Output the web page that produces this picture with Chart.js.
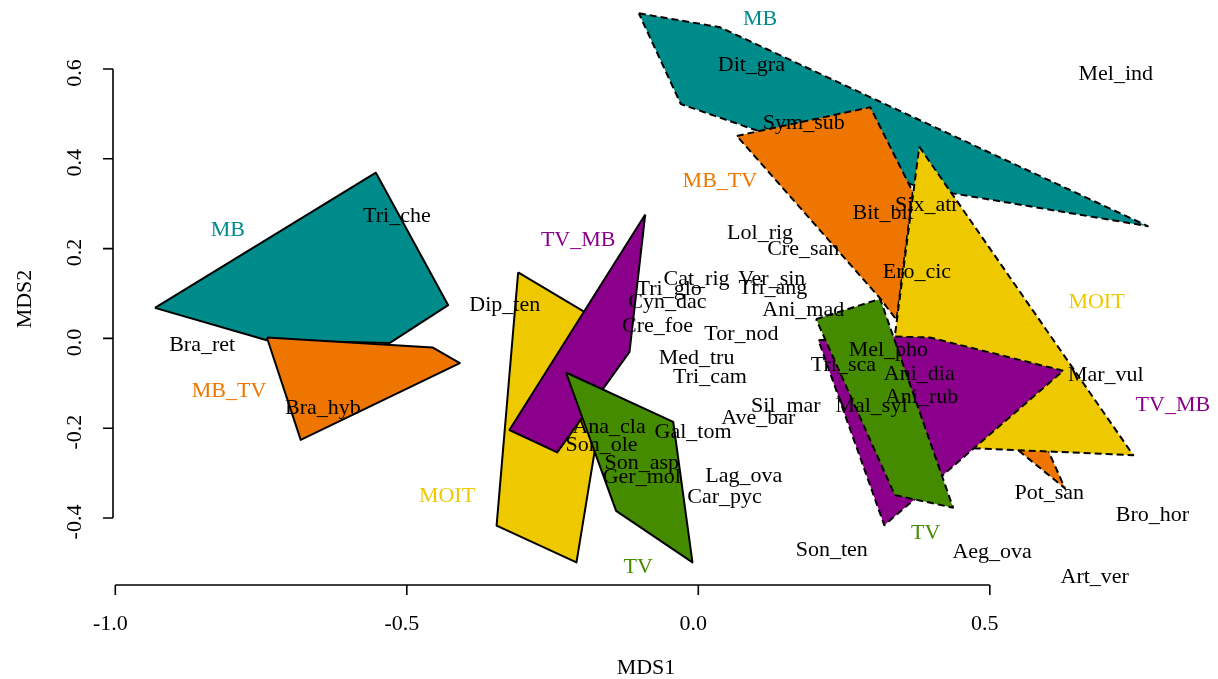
<!DOCTYPE html>
<html>
<head>
<meta charset="utf-8">
<script src="https://cdn.jsdelivr.net/npm/chart.js@4.4.1/dist/chart.umd.min.js"></script>
<style>
  html, body { margin: 0; padding: 0; background: #fff; }
  canvas { display: block; }
</style>
</head>
<body>
<canvas id="nmdsChart" width="1218" height="679"></canvas>
<script>
  // hull vertices as [MDS1, MDS2]; first set drawn with solid borders, second with dashed
  const hullMB_solid    = [[-0.932, 0.068], [-0.553, 0.369], [-0.429, 0.074], [-0.529, -0.010], [-0.740, -0.004]];
  const hullMBTV_solid  = [[-0.740, 0.002], [-0.456, -0.020], [-0.409, -0.055], [-0.682, -0.226]];
  const hullMOIT_solid  = [[-0.309, 0.147], [-0.186, 0.052], [-0.169, -0.182], [-0.209, -0.499], [-0.346, -0.417]];
  const hullTVMB_solid  = [[-0.091, 0.276], [-0.118, -0.030], [-0.177, -0.137], [-0.242, -0.254], [-0.324, -0.204]];
  const hullTV_solid    = [[-0.227, -0.076], [-0.043, -0.186], [-0.010, -0.499], [-0.141, -0.384]];

  const hullMB_dash     = [[-0.102, 0.724], [0.037, 0.693], [0.771, 0.250], [0.437, 0.323], [0.368, 0.342], [-0.030, 0.522]];
  const hullMBTV_dash   = [[0.066, 0.451], [0.295, 0.515], [0.368, 0.326], [0.340, 0.041], [0.312, 0.089]];
  const hullMBTV_dash2  = [[0.527, -0.226], [0.593, -0.229], [0.629, -0.334]];
  const hullMOIT_dash   = [[0.379, 0.427], [0.746, -0.260], [0.478, -0.245], [0.406, -0.237], [0.337, 0.004]];
  const hullTVMB_dash   = [[0.206, -0.004], [0.337, 0.004], [0.397, 0.002], [0.626, -0.072], [0.420, -0.304], [0.319, -0.416]];
  const hullTV_dash     = [[0.202, 0.043], [0.312, 0.088], [0.437, -0.377], [0.337, -0.349]];

  // species scores
  const speciesNames = ['Tri_che', 'Bra_ret', 'Bra_hyb', 'Dip_ten', 'Lol_rig', 'Cre_san', 'Cat_rig', 'Ver_sin',
    'Tri_glo', 'Tri_ang', 'Cyn_dac', 'Ani_mad', 'Cre_foe', 'Tor_nod', 'Med_tru', 'Tri_cam', 'Sil_mar', 'Ave_bar',
    'Ana_cla', 'Gal_tom', 'Son_ole', 'Son_asp', 'Ger_mol', 'Lag_ova', 'Car_pyc', 'Dit_gra', 'Mel_ind', 'Sym_sub',
    'Bit_bit', 'Six_atr', 'Ero_cic', 'Mel_pho', 'Tri_sca', 'Ani_dia', 'Mar_vul', 'Ani_rub', 'Mal_syl', 'Pot_san',
    'Bro_hor', 'Son_ten', 'Aeg_ova', 'Art_ver'];
  const speciesX = [-0.517, -0.851, -0.644, -0.332, 0.106, 0.180, -0.003, 0.126,
    -0.050, 0.128, -0.053, 0.180, -0.070, 0.074, -0.003, 0.020, 0.150, 0.103,
    -0.153, -0.009, -0.166, -0.097, -0.097, 0.078, 0.045, 0.091, 0.716, 0.181,
    0.317, 0.392, 0.375, 0.326, 0.249, 0.379, 0.699, 0.383, 0.297, 0.602,
    0.779, 0.229, 0.504, 0.680];
  const speciesY = [0.273, -0.016, -0.156, 0.074, 0.234, 0.198, 0.132, 0.132,
    0.109, 0.112, 0.080, 0.063, 0.028, 0.010, -0.044, -0.087, -0.151, -0.178,
    -0.197, -0.208, -0.239, -0.278, -0.310, -0.308, -0.354, 0.609, 0.589, 0.480,
    0.279, 0.297, 0.147, -0.027, -0.059, -0.080, -0.082, -0.130, -0.151, -0.345,
    -0.393, -0.471, -0.476, -0.531];

  // group labels
  const groupNames = ['MB', 'MB_TV', 'TV_MB', 'MOIT', 'TV', 'MB', 'MB_TV', 'MOIT', 'TV_MB', 'TV'];
  const groupX = [-0.807, -0.805, -0.206, -0.431, -0.103, 0.106, 0.037, 0.683, 0.814, 0.390];
  const groupY = [0.241, -0.117, 0.219, -0.351, -0.510, 0.711, 0.349, 0.080, -0.148, -0.433];

  const xTicks = [-1.0, -0.5, 0.0, 0.5];
  const yTicks = [-0.4, -0.2, 0.0, 0.2, 0.4, 0.6];

  const groupColours = {
    MB: '#008B8B',
    MB_TV: '#EE7600',
    MOIT: '#EEC900',
    TV_MB: '#8B008B',
    TV: '#458B00'
  };

  const hulls = [
    { pts: hullMB_solid, group: 'MB', dashed: false },
    { pts: hullMBTV_solid, group: 'MB_TV', dashed: false },
    { pts: hullMOIT_solid, group: 'MOIT', dashed: false },
    { pts: hullTVMB_solid, group: 'TV_MB', dashed: false },
    { pts: hullTV_solid, group: 'TV', dashed: false },
    { pts: hullMB_dash, group: 'MB', dashed: true },
    { pts: hullMBTV_dash, group: 'MB_TV', dashed: true },
    { pts: hullMBTV_dash2, group: 'MB_TV', dashed: true },
    { pts: hullMOIT_dash, group: 'MOIT', dashed: true },
    { pts: hullTVMB_dash, group: 'TV_MB', dashed: true },
    { pts: hullTV_dash, group: 'TV', dashed: true }
  ];

  const datasets = hulls.map((h, i) => ({
    data: h.pts.concat([h.pts[0]]).map(p => ({ x: p[0], y: p[1] })),
    showLine: true,
    fill: 'shape',
    backgroundColor: groupColours[h.group],
    borderColor: '#000',
    borderWidth: 2,
    borderDash: h.dashed ? [7, 4] : [],
    borderJoinStyle: 'round',
    pointRadius: 0,
    pointHoverRadius: 0,
    tension: 0,
    clip: false,
    order: 100 - i   // first hull painted first
  }));

  const FONT = '22px "Liberation Serif", "DejaVu Serif", serif';

  // R-style axes plus text labels
  const rStyle = {
    id: 'rStyle',
    afterDatasetsDraw(chart) {
      const { ctx, chartArea, scales: { x, y } } = chart;
      ctx.save();
      ctx.font = FONT;
      ctx.textAlign = 'center';
      ctx.textBaseline = 'middle';

      ctx.fillStyle = '#000';
      speciesNames.forEach((name, i) => {
        ctx.fillText(name, x.getPixelForValue(speciesX[i]), y.getPixelForValue(speciesY[i]));
      });
      groupNames.forEach((name, i) => {
        ctx.fillStyle = groupColours[name];
        ctx.fillText(name, x.getPixelForValue(groupX[i]), y.getPixelForValue(groupY[i]));
      });

      // axes
      ctx.strokeStyle = '#000';
      ctx.lineWidth = 1.6;
      ctx.fillStyle = '#000';
      const yb = chartArea.bottom + 1;
      const xl = chartArea.left;
      ctx.beginPath();
      ctx.moveTo(x.getPixelForValue(xTicks[0]), yb);
      ctx.lineTo(x.getPixelForValue(xTicks[xTicks.length - 1]), yb);
      xTicks.forEach(t => {
        const px = x.getPixelForValue(t);
        ctx.moveTo(px, yb);
        ctx.lineTo(px, yb + 10);
      });
      ctx.moveTo(xl, y.getPixelForValue(yTicks[0]));
      ctx.lineTo(xl, y.getPixelForValue(yTicks[yTicks.length - 1]));
      yTicks.forEach(t => {
        const py = y.getPixelForValue(t);
        ctx.moveTo(xl, py);
        ctx.lineTo(xl - 10, py);
      });
      ctx.stroke();

      xTicks.forEach(t => {
        ctx.fillText(t.toFixed(1), x.getPixelForValue(t) - 5, 624);
      });
      yTicks.forEach(t => {
        ctx.save();
        ctx.translate(75, y.getPixelForValue(t) + 4);
        ctx.rotate(-Math.PI / 2);
        ctx.fillText(t.toFixed(1), 0, 0);
        ctx.restore();
      });

      ctx.fillText('MDS1', 646, 668);
      ctx.save();
      ctx.translate(25, 299);
      ctx.rotate(-Math.PI / 2);
      ctx.fillText('MDS2', 0, 0);
      ctx.restore();

      ctx.restore();
    }
  };

  window.addEventListener('DOMContentLoaded', function() {
    const ctx = document.getElementById('nmdsChart').getContext('2d');
    new Chart(ctx, {
      type: 'scatter',
      data: { datasets: datasets },
      options: {
        responsive: false,
        animation: false,
        devicePixelRatio: 1,
        events: [],
        layout: { padding: { left: 113, right: 8, top: 8, bottom: 95 } },
        plugins: {
          legend: { display: false },
          tooltip: { enabled: false }
        },
        scales: {
          x: { type: 'linear', min: -1.00395, max: 0.8777, display: false },
          y: { type: 'linear', min: -0.54699, max: 0.73586, display: false }
        }
      },
      plugins: [rStyle]
    });
  });
</script>
</body>
</html>
